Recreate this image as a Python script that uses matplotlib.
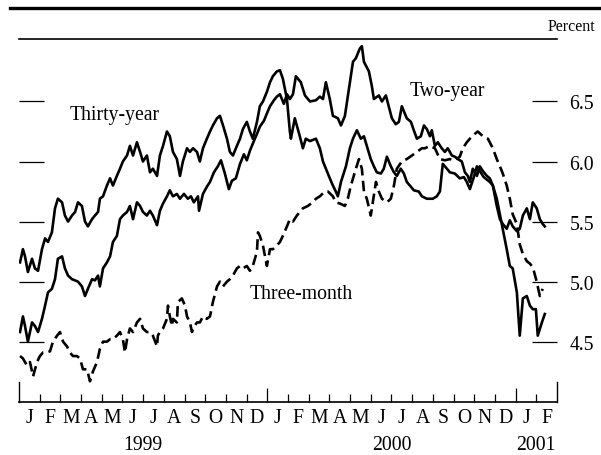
import numpy as np
import matplotlib
matplotlib.use("Agg")
import matplotlib.pyplot as plt
from matplotlib.lines import Line2D

plt.rcParams["font.family"] = ["Liberation Serif", "DejaVu Serif"]

# x = months since 1 Jan 1999, y = percent
months = list("JFMAMJJASOND") * 2 + ["J", "F"]
years = ["1999", "2000", "2001"]
year_pos = [6.0, 18.0, 25.0]
y_ticks = [4.5, 5.0, 5.5, 6.0, 6.5]

thirty_year = [
    (0.05, 5.16), (0.19, 5.27), (0.29, 5.21), (0.43, 5.08), (0.63, 5.19), (0.77, 5.11),
    (0.92, 5.09), (1.11, 5.27), (1.26, 5.36), (1.40, 5.33), (1.59, 5.41), (1.74, 5.61),
    (1.88, 5.69), (2.08, 5.66), (2.22, 5.55), (2.37, 5.50), (2.56, 5.55), (2.71, 5.58),
    (2.85, 5.66), (3.04, 5.63), (3.19, 5.50), (3.33, 5.46), (3.53, 5.52), (3.67, 5.55),
    (3.82, 5.58), (3.91, 5.69), (4.06, 5.71), (4.25, 5.80), (4.40, 5.86), (4.54, 5.80),
    (4.73, 5.88), (4.88, 5.94), (5.02, 6.00), (5.22, 6.05), (5.36, 6.13), (5.51, 6.05),
    (5.70, 6.16), (5.85, 6.08), (5.99, 6.00), (6.18, 6.05), (6.33, 5.91), (6.47, 5.94),
    (6.67, 5.88), (6.81, 6.05), (6.96, 6.13), (7.15, 6.25), (7.29, 6.21), (7.44, 6.08),
    (7.63, 6.02), (7.78, 5.88), (7.92, 6.00), (8.12, 6.11), (8.26, 6.08), (8.41, 6.11),
    (8.60, 6.08), (8.74, 6.00), (8.89, 6.11), (9.08, 6.19), (9.23, 6.25), (9.37, 6.30),
    (9.57, 6.36), (9.71, 6.38), (9.86, 6.30), (10.05, 6.19), (10.19, 6.08), (10.34, 6.05),
    (10.53, 6.13), (10.68, 6.19), (10.82, 6.27), (11.01, 6.33), (11.16, 6.25), (11.30, 6.19),
    (11.50, 6.33), (11.64, 6.46), (11.79, 6.50), (11.98, 6.58), (12.13, 6.66), (12.27, 6.71),
    (12.46, 6.75), (12.61, 6.76), (12.75, 6.69), (12.95, 6.52), (13.09, 6.25), (13.14, 6.19),
    (13.33, 6.36), (13.57, 6.21), (13.72, 6.11), (13.86, 6.19), (14.06, 6.17), (14.35, 6.19),
    (14.54, 6.11), (14.69, 6.00), (14.83, 5.94), (15.02, 5.86), (15.17, 5.80), (15.31, 5.75),
    (15.41, 5.71), (15.56, 5.83), (15.80, 5.96), (15.99, 6.11), (16.14, 6.19), (16.33, 6.26),
    (16.52, 6.19), (16.67, 6.21), (16.81, 6.13), (17.00, 6.02), (17.15, 5.96), (17.29, 5.91),
    (17.49, 5.90), (17.63, 5.94), (17.78, 6.04), (17.97, 5.96), (18.12, 5.91), (18.26, 5.88),
    (18.45, 5.94), (18.60, 5.90), (18.74, 5.83), (18.94, 5.79), (19.08, 5.76), (19.32, 5.75),
    (19.47, 5.71), (19.71, 5.69), (20.00, 5.69), (20.19, 5.71), (20.34, 5.75), (20.48, 5.98),
    (20.68, 5.94), (20.82, 5.91), (21.06, 5.90), (21.30, 5.86), (21.50, 5.87), (21.64, 5.83),
    (21.79, 5.77), (21.98, 5.87), (22.13, 5.96), (22.27, 5.92), (22.46, 5.87), (22.75, 5.83),
    (22.90, 5.80), (23.09, 5.63), (23.24, 5.52), (23.38, 5.48), (23.57, 5.44), (23.72, 5.51),
    (23.86, 5.46), (24.06, 5.42), (24.20, 5.44), (24.35, 5.55), (24.54, 5.61), (24.69, 5.52),
    (24.83, 5.66), (25.02, 5.61), (25.17, 5.52), (25.31, 5.48), (25.41, 5.46),
]

two_year = [
    (0.05, 4.58), (0.19, 4.71), (0.29, 4.63), (0.43, 4.50), (0.63, 4.66), (0.77, 4.63),
    (0.92, 4.58), (1.11, 4.69), (1.26, 4.80), (1.40, 4.91), (1.59, 4.94), (1.74, 5.02),
    (1.88, 5.19), (2.08, 5.21), (2.22, 5.11), (2.37, 5.05), (2.56, 5.02), (2.71, 5.01),
    (2.85, 5.00), (3.04, 4.96), (3.19, 4.88), (3.33, 4.94), (3.53, 5.02), (3.67, 5.01),
    (3.82, 5.05), (3.91, 4.96), (4.06, 5.11), (4.25, 5.16), (4.40, 5.21), (4.54, 5.33),
    (4.73, 5.38), (4.88, 5.52), (5.02, 5.55), (5.22, 5.58), (5.36, 5.63), (5.51, 5.52),
    (5.70, 5.66), (5.85, 5.63), (5.99, 5.58), (6.18, 5.55), (6.33, 5.59), (6.47, 5.55),
    (6.67, 5.47), (6.81, 5.59), (6.96, 5.65), (7.15, 5.71), (7.29, 5.76), (7.44, 5.71),
    (7.63, 5.73), (7.78, 5.69), (7.97, 5.73), (8.16, 5.69), (8.31, 5.71), (8.45, 5.66),
    (8.65, 5.71), (8.70, 5.59), (8.89, 5.73), (9.08, 5.79), (9.23, 5.83), (9.42, 5.91),
    (9.61, 5.96), (9.76, 6.01), (9.95, 5.90), (10.14, 5.77), (10.29, 5.84), (10.48, 5.86),
    (10.68, 5.98), (10.87, 6.06), (11.01, 6.01), (11.16, 6.09), (11.35, 6.17), (11.50, 6.23),
    (11.64, 6.29), (11.84, 6.34), (11.98, 6.40), (12.13, 6.46), (12.32, 6.51), (12.46, 6.54),
    (12.61, 6.56), (12.80, 6.48), (12.95, 6.56), (13.09, 6.52), (13.24, 6.56), (13.38, 6.71),
    (13.62, 6.66), (13.82, 6.55), (14.06, 6.50), (14.35, 6.51), (14.54, 6.54), (14.69, 6.52),
    (14.83, 6.66), (15.02, 6.52), (15.17, 6.38), (15.41, 6.36), (15.56, 6.30), (15.75, 6.38),
    (15.99, 6.66), (16.14, 6.83), (16.28, 6.86), (16.47, 6.94), (16.57, 6.96), (16.67, 6.83),
    (16.91, 6.75), (17.05, 6.63), (17.15, 6.52), (17.39, 6.55), (17.54, 6.50), (17.73, 6.55),
    (17.87, 6.46), (18.02, 6.36), (18.21, 6.31), (18.36, 6.33), (18.50, 6.46), (18.74, 6.36),
    (18.94, 6.33), (19.08, 6.26), (19.23, 6.19), (19.42, 6.21), (19.57, 6.30), (19.71, 6.27),
    (19.86, 6.21), (19.95, 6.26), (20.10, 6.13), (20.24, 6.16), (20.43, 6.11), (20.58, 6.08),
    (20.72, 6.11), (20.92, 6.05), (21.06, 6.04), (21.21, 6.02), (21.40, 6.00), (21.55, 5.91),
    (21.69, 5.88), (21.79, 5.83), (21.93, 5.94), (22.13, 5.88), (22.27, 5.96), (22.42, 5.92),
    (22.61, 5.88), (22.75, 5.86), (22.90, 5.80), (23.09, 5.69), (23.24, 5.56), (23.38, 5.44),
    (23.57, 5.27), (23.72, 5.13), (23.86, 5.11), (24.06, 4.91), (24.20, 4.55), (24.35, 4.86),
    (24.54, 4.88), (24.69, 4.80), (24.83, 4.77), (24.98, 4.77), (25.07, 4.55), (25.27, 4.66),
    (25.41, 4.73),
]

three_month = [
    (0.05, 4.38), (0.19, 4.36), (0.39, 4.30), (0.53, 4.33), (0.68, 4.21), (0.87, 4.33),
    (1.01, 4.38), (1.16, 4.41), (1.35, 4.41), (1.50, 4.42), (1.64, 4.50), (1.84, 4.55),
    (1.98, 4.58), (2.13, 4.50), (2.32, 4.46), (2.46, 4.41), (2.61, 4.38), (2.80, 4.38),
    (2.95, 4.36), (3.09, 4.27), (3.29, 4.27), (3.43, 4.17), (3.57, 4.25), (3.77, 4.33),
    (3.91, 4.44), (4.06, 4.50), (4.25, 4.50), (4.40, 4.52), (4.54, 4.52), (4.73, 4.55),
    (4.88, 4.58), (5.02, 4.52), (5.12, 4.41), (5.22, 4.52), (5.36, 4.61), (5.51, 4.58),
    (5.70, 4.66), (5.85, 4.69), (5.99, 4.61), (6.18, 4.58), (6.33, 4.58), (6.47, 4.55),
    (6.67, 4.46), (6.71, 4.55), (6.81, 4.58), (6.96, 4.61), (7.15, 4.69), (7.20, 4.80),
    (7.29, 4.71), (7.39, 4.63), (7.44, 4.69), (7.63, 4.66), (7.68, 4.83), (7.87, 4.86),
    (8.02, 4.80), (8.12, 4.71), (8.26, 4.66), (8.36, 4.58), (8.41, 4.61), (8.60, 4.66),
    (8.74, 4.66), (8.89, 4.71), (9.08, 4.69), (9.23, 4.71), (9.37, 4.83), (9.57, 4.96),
    (9.71, 5.00), (9.86, 4.96), (10.05, 5.00), (10.19, 5.02), (10.34, 5.05), (10.53, 5.11),
    (10.68, 5.13), (10.82, 5.11), (11.01, 5.13), (11.16, 5.09), (11.30, 5.13), (11.50, 5.25),
    (11.55, 5.41), (11.64, 5.38), (11.79, 5.30), (11.98, 5.13), (12.13, 5.27), (12.27, 5.27),
    (12.46, 5.30), (12.61, 5.33), (12.75, 5.38), (12.95, 5.46), (13.09, 5.52), (13.24, 5.50),
    (13.43, 5.55), (13.57, 5.58), (13.72, 5.61), (13.96, 5.63), (14.20, 5.66), (14.35, 5.69),
    (14.54, 5.71), (14.78, 5.75), (14.93, 5.75), (15.17, 5.71), (15.31, 5.66), (15.51, 5.65),
    (15.75, 5.63), (15.89, 5.69), (16.04, 5.80), (16.28, 5.94), (16.43, 6.02), (16.57, 5.94),
    (16.67, 5.75), (16.81, 5.69), (17.00, 5.55), (17.25, 5.83), (17.39, 5.75), (17.54, 5.69),
    (17.78, 5.66), (17.97, 5.69), (18.12, 5.80), (18.26, 5.94), (18.50, 6.00), (18.74, 6.02),
    (18.99, 6.05), (19.23, 6.08), (19.47, 6.11), (19.61, 6.11), (19.86, 6.13), (20.10, 6.11),
    (20.34, 6.02), (20.58, 6.01), (20.82, 6.02), (21.06, 6.01), (21.30, 6.04), (21.45, 6.11),
    (21.64, 6.16), (21.79, 6.19), (22.03, 6.23), (22.17, 6.25), (22.42, 6.21), (22.66, 6.19),
    (22.90, 6.11), (23.09, 6.02), (23.24, 5.96), (23.38, 5.90), (23.57, 5.80), (23.72, 5.69),
    (23.86, 5.56), (24.06, 5.48), (24.20, 5.31), (24.35, 5.23), (24.54, 5.17), (24.69, 5.15),
    (24.83, 5.12), (25.02, 5.00), (25.17, 4.88), (25.31, 4.94),
]

W, H = 601, 456
FS = 14.2
fig = plt.figure(figsize=(W / 100, H / 100), dpi=100)
ax = fig.add_axes([19 / W, 1 - 402.7 / H, (557 - 19) / W, (402.7 - 40) / H])

for series, ls in [(thirty_year, "-"), (two_year, "-"), (three_month, (0, (4, 2)))]:
    t, v = np.array(series).T
    ax.plot(t, v, color="black", lw=1.9, ls=ls, solid_joinstyle="round")

ax.set_xlim(0, 26)
ax.set_ylim(4.0, 7.02)

for s in ["top", "bottom"]:
    ax.spines[s].set_linewidth(1.2)
for s in ["left", "right"]:
    ax.spines[s].set_linewidth(1.0)
    ax.spines[s].set_bounds(4.0, 4.16)

ax.set_yticks(y_ticks)
ax.set_yticklabels([f"{v:.1f}" for v in y_ticks])
ax.tick_params(axis="y", direction="in", length=18, width=0.9, left=True, right=True,
               labelleft=False, labelright=True, pad=9, labelsize=FS)

ax.set_xticks([12, 24])
ax.set_xticks([m for m in range(1, 26) if m not in (12, 24)], minor=True)
ax.tick_params(axis="x", which="major", direction="in", length=10, width=0.9, labelbottom=False)
ax.tick_params(axis="x", which="minor", direction="in", length=6, width=0.9, labelbottom=False)

for i, m in enumerate(months):
    ax.annotate(m, xy=(i + 0.5, 0), xycoords=("data", "axes fraction"), xytext=(0, -14.4),
                textcoords="offset points", ha="center", va="baseline", fontsize=FS)
for yr, p in zip(years, year_pos):
    ax.annotate(yr, xy=(p, 0), xycoords=("data", "axes fraction"), xytext=(0, -34),
                textcoords="offset points", ha="center", va="baseline", fontsize=FS)

ax.text(2.46, 6.35, "Thirty-year", va="baseline", fontsize=FS)
ax.text(18.86, 6.55, "Two-year", va="baseline", fontsize=FS)
ax.text(11.16, 4.86, "Three-month", va="baseline", fontsize=FS)

fig.add_artist(Line2D([10 / W, 1.0], [1 - 9.3 / H] * 2, transform=fig.transFigure,
                      color="black", lw=2.4))
fig.text(595 / W, 1 - 31 / H, "Percent", ha="right", va="baseline", fontsize=11.5)

fig.savefig("out.png", dpi=100)
